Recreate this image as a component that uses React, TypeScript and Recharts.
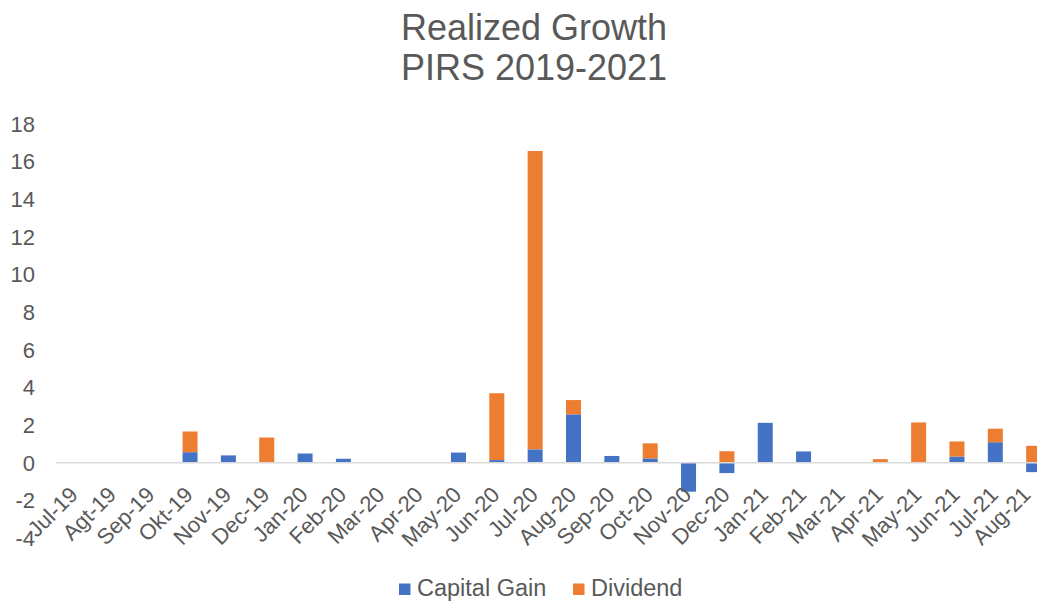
import React from "react";
import { BarChart, Bar, XAxis, YAxis, ReferenceLine } from "recharts";

const months = [
  "Jul-19", "Agt-19", "Sep-19", "Okt-19", "Nov-19", "Dec-19", "Jan-20", "Feb-20",
  "Mar-20", "Apr-20", "May-20", "Jun-20", "Jul-20", "Aug-20", "Sep-20", "Oct-20",
  "Nov-20", "Dec-20", "Jan-21", "Feb-21", "Mar-21", "Apr-21", "May-21", "Jun-21",
  "Jul-21", "Aug-21",
];
const capitalGain = [
  0, 0, 0, 0.56, 0.39, 0, 0.49, 0.21, 0, 0, 0.54, 0.14, 0.71, 2.57, 0.36, 0.23,
  -1.54, -0.55, 2.12, 0.6, 0, 0, 0, 0.33, 1.09, -0.5,
];
const dividend = [
  0, 0, 0, 1.1, 0, 1.34, 0, 0, 0, 0, 0, 3.55, 15.86, 0.76, 0, 0.8,
  0, 0.61, 0, 0, 0, 0.19, 2.14, 0.8, 0.72, 0.9,
];
const yTicks = [-4, -2, 0, 2, 4, 6, 8, 10, 12, 14, 16, 18];
const titleLines = ["Realized Growth", "PIRS 2019-2021"];
const seriesNames = ["Capital Gain", "Dividend"];

const BLUE = "#4472C4";
const ORANGE = "#ED7D31";
const TEXT = "#595959";
const FONT = "'Liberation Sans', Arial, sans-serif";

const data = months.map((m, i) => ({ month: m, cg: capitalGain[i], div: dividend[i] }));

const XTick = (props: any) => {
  const { x, y, payload } = props;
  const ax = Math.min(x + 4, 1032);
  const ay = y - 42;
  return (
    <text
      x={ax}
      y={ay}
      textAnchor="end"
      fill={TEXT}
      fontSize={22}
      fontFamily={FONT}
      transform={`rotate(-45, ${ax}, ${ay})`}
    >
      {payload.value}
    </text>
  );
};

export default function App() {
  return (
    <div
      style={{
        position: "fixed",
        left: 0,
        top: 0,
        width: 1037,
        height: 602,
        overflow: "hidden",
        background: "#fff",
      }}
    >
      <svg width={1037} height={110} style={{ position: "absolute", left: 0, top: 0 }}>
        {titleLines.map((t, i) => (
          <text
            key={t}
            x={534}
            y={40 + i * 40}
            textAnchor="middle"
            fontSize={36}
            fontFamily={FONT}
            fill={TEXT}
          >
            {t}
          </text>
        ))}
      </svg>
      <div style={{ position: "absolute", left: 0, top: 0 }}>
        <BarChart
          width={1080}
          height={602}
          data={data}
          stackOffset="sign"
          barCategoryGap="30%"
          margin={{ top: 124, right: 27, bottom: 34, left: 0 }}
        >
          <XAxis
            dataKey="month"
            axisLine={false}
            tickLine={false}
            tickSize={0}
            tickMargin={0}
            height={30}
            interval={0}
            tick={<XTick />}
          />
          <YAxis
            width={56}
            domain={[-4, 18]}
            ticks={yTicks}
            interval={0}
            axisLine={false}
            tickLine={false}
            tickSize={0}
            tickMargin={21}
            tick={{ fill: TEXT, fontSize: 22, fontFamily: FONT }}
          />
          <ReferenceLine y={0} stroke="#d9d9d9" strokeWidth={1.5} />
          <Bar dataKey="cg" name={seriesNames[0]} stackId="a" fill={BLUE} isAnimationActive={false} />
          <Bar dataKey="div" name={seriesNames[1]} stackId="a" fill={ORANGE} isAnimationActive={false} />
        </BarChart>
      </div>
      <svg width={320} height={32} style={{ position: "absolute", left: 391, top: 570 }}>
        <rect x={8} y={13.5} width={11.5} height={11.5} fill={BLUE} />
        <text x={26} y={26} fontSize={23.5} fontFamily={FONT} fill={TEXT}>{seriesNames[0]}</text>
        <rect x={182} y={13.5} width={11.5} height={11.5} fill={ORANGE} />
        <text x={200} y={26} fontSize={23.5} fontFamily={FONT} fill={TEXT}>{seriesNames[1]}</text>
      </svg>
    </div>
  );
}
